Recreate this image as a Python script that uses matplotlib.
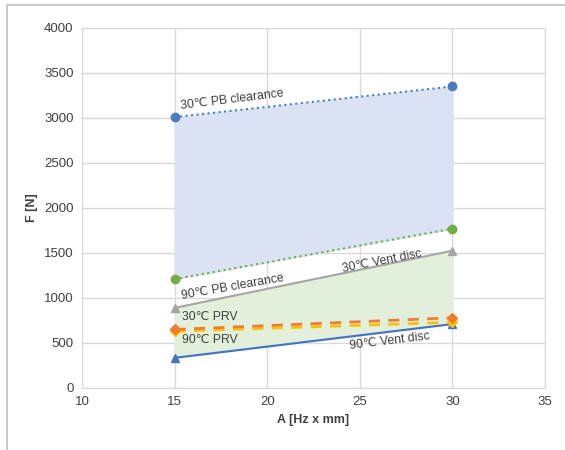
import matplotlib.pyplot as plt
from matplotlib.patches import Rectangle

plt.rcParams['font.family'] = ['Liberation Sans', 'DejaVu Sans']

# data
x = [15, 30]
pb30 = [3010, 3350]
pb90 = [1210, 1770]
vent30 = [890, 1525]
prv30 = [650, 780]
prv90 = [630, 730]
vent90 = [335, 710]

blue = '#4A7EBB'
orange = '#ED7D31'
gray = '#A5A5A5'
gold = '#FFC000'
green = '#70AD47'

fig = plt.figure(figsize=(5.65, 4.5), dpi=100)
ax = fig.add_axes([0.1451, 0.1378, 0.8195, 0.8])

# shaded bands
ax.fill_between(x, pb90, pb30, color='#DAE3F3', zorder=1)
ax.fill_between(x, vent90, vent30, color='#E2EFDA', zorder=1)

ax.plot(x, pb30, ':', color=blue, lw=1.5, marker='o', ms=6, zorder=3)
ax.plot(x, pb90, ':', color=green, lw=1.5, marker='o', ms=6, zorder=3)
ax.plot(x, vent30, '-', color=gray, lw=1.5, marker='^', ms=6, zorder=3)
ax.plot(x, vent90, '-', color='#4472C4', lw=1.5, marker='^', ms=6, zorder=3)
ax.plot(x, prv90, '--', color=gold, lw=2, marker='D', ms=5, dashes=(4, 3), zorder=3)
ax.plot(x, prv30, '--', color=orange, lw=2, marker='D', ms=5, dashes=(4, 3), zorder=4)

# labels on lines
tc = '#404040'
fs = 8.8
ax.text(15.3, 3070, '30℃ PB clearance', rotation=7, fontsize=fs, color=tc, ha='left', va='bottom')
ax.text(15.3, 1120, '90℃ PB clearance', rotation=10, fontsize=fs, color=tc, ha='left', va='center')
ax.text(26.2, 1410, '30℃ Vent disc', rotation=11, fontsize=fs, color=tc, ha='center', va='center')
ax.text(15.4, 790, '30℃ PRV', fontsize=fs, color=tc, ha='left', va='center')
ax.text(15.4, 530, '90℃ PRV', fontsize=fs, color=tc, ha='left', va='center')
ax.text(26.6, 520, '90℃ Vent disc', rotation=7, fontsize=fs, color=tc, ha='center', va='center')

ax.set_xlim(10, 35)
ax.set_ylim(0, 4000)
ax.set_xticks(range(10, 36, 5))
ax.set_yticks(range(0, 4001, 500))
ax.grid(True, color='#D9D9D9', lw=1)
ax.set_axisbelow(True)
for s in ax.spines.values():
    s.set_color('#D9D9D9')
ax.tick_params(length=0, labelsize=9.5, colors='#404040', pad=6)
ax.set_xlabel('A [Hz x mm]', fontsize=9, fontweight='bold', color='#404040')
ax.set_ylabel('F [N]', fontsize=9, fontweight='bold', color='#404040')

# outer chart border
fig.patches.append(Rectangle((7 / 565, -0.1), 1.1, 1.1 - 5 / 450,
                             transform=fig.transFigure, fill=False,
                             edgecolor='#BFBFBF', lw=1.2))

fig.savefig('out.png', dpi=100)
